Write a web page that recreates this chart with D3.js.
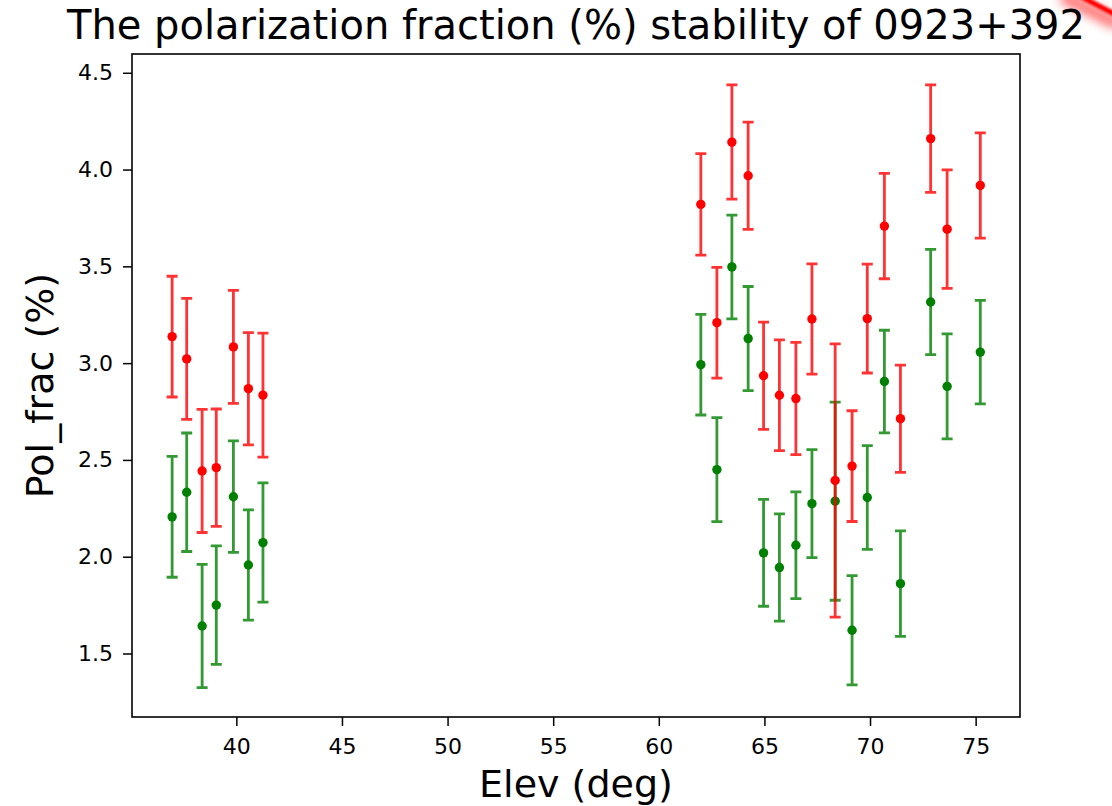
<!DOCTYPE html>
<html>
<head>
<meta charset="utf-8">
<script src="https://cdn.jsdelivr.net/npm/d3@7"></script>
<style>
  body { margin: 0; background: #fff; }
  svg { display: block; }
  text { font-family: "DejaVu Sans", sans-serif; fill: #000; }
</style>
</head>
<body>
<script>
// elevation of every scan (deg) -- red and green share the same elevations
var elev = [36.96, 37.65, 38.38, 39.05, 39.86, 40.57, 41.26,
            61.99, 62.75, 63.46, 64.23, 64.96, 65.71, 66.49, 67.25, 68.35,
            69.15, 69.87, 70.68, 71.44, 72.87, 73.65, 75.22];

var redVal = [3.137, 3.022, 2.443, 2.46, 3.084, 2.868, 2.835,
              3.82, 3.209, 4.142, 3.968, 2.935, 2.834, 2.817, 3.228, 2.394,
              2.468, 3.23, 3.708, 2.713, 4.16, 3.692, 3.918];
var redErr = [0.312, 0.313, 0.318, 0.303, 0.292, 0.29, 0.32,
              0.262, 0.286, 0.295, 0.277, 0.277, 0.286, 0.29, 0.285, 0.706,
              0.286, 0.281, 0.272, 0.277, 0.278, 0.306, 0.272];

var greenVal = [2.206, 2.333, 1.642, 1.75, 2.31, 1.957, 2.073,
                2.992, 2.45, 3.497, 3.127, 2.02, 1.944, 2.059, 2.274, 2.287,
                1.62, 2.306, 2.905, 1.861, 3.316, 2.88, 3.057];
var greenErr = [0.312, 0.306, 0.318, 0.306, 0.288, 0.285, 0.308,
                0.26, 0.269, 0.268, 0.269, 0.276, 0.277, 0.276, 0.279, 0.512,
                0.282, 0.268, 0.265, 0.273, 0.272, 0.271, 0.267];

var xTicks = [40, 45, 50, 55, 60, 65, 70, 75];
var yTicks = [1.5, 2.0, 2.5, 3.0, 3.5, 4.0, 4.5];

var W = 1112, H = 806;
var plotL = 132, plotT = 54, plotR = 1020, plotB = 717;
var cap = 5.5;

var svg = d3.select('body').append('svg')
	.attr('width', W)
	.attr('height', H);

var x = d3.scaleLinear().domain([35.06, 77.10]).range([plotL, plotR]);
var y = d3.scaleLinear().domain([1.172, 4.597]).range([plotB, plotT]);

// blurred red streak in the top right corner
var defs = svg.append('defs');
defs.append('filter').attr('id', 'blur')
	.attr('x', '-50%').attr('y', '-50%').attr('width', '200%').attr('height', '200%')
	.append('feGaussianBlur').attr('stdDeviation', 5);
defs.append('filter').attr('id', 'soft')
	.attr('x', '-50%').attr('y', '-50%').attr('width', '200%').attr('height', '200%')
	.append('feGaussianBlur').attr('stdDeviation', 1.2);

svg.append('line')
	.attr('x1', 1062).attr('y1', -4).attr('x2', 1118).attr('y2', 24)
	.attr('stroke', '#ff8080').attr('stroke-width', 14)
	.attr('filter', 'url(#blur)');
svg.append('line')
	.attr('x1', 1076).attr('y1', -6).attr('x2', 1120).attr('y2', 17)
	.attr('stroke', '#ff0000').attr('stroke-width', 5)
	.attr('filter', 'url(#soft)');

// axes
var xAxis = d3.axisBottom(x)
	.tickValues(xTicks)
	.tickFormat(d3.format('d'))
	.tickSize(9)
	.tickPadding(12)
	.tickSizeOuter(0);

var yAxis = d3.axisLeft(y)
	.tickValues(yTicks)
	.tickFormat(d3.format('.1f'))
	.tickSize(9)
	.tickPadding(10)
	.tickSizeOuter(0);

var gx = svg.append('g')
	.attr('transform', 'translate(0,' + plotB + ')')
	.call(xAxis);
var gy = svg.append('g')
	.attr('transform', 'translate(' + plotL + ',0)')
	.call(yAxis);

[gx, gy].forEach(function(g) {
	g.attr('font-size', null).attr('font-family', null);
	g.select('.domain').remove();
	g.selectAll('.tick line').attr('stroke', '#000').attr('stroke-width', 1.5);
	g.selectAll('.tick text')
		.style('font-family', '"DejaVu Sans", sans-serif')
		.style('font-size', '22px')
		.attr('fill', '#000');
});

// error bars, green first so the red ones sit on top
function series(vals, errs, color) {
	var pts = elev.map(function(e, i) { return { e: e, v: vals[i], s: errs[i] }; });
	var g = svg.append('g');

	g.selectAll('path.err')
		.data(pts)
		.enter().append('path')
			.attr('class', 'err')
			.attr('d', function(d) {
				var cx = x(d.e), y0 = y(d.v - d.s), y1 = y(d.v + d.s);
				return 'M' + cx + ',' + y0 + 'V' + y1 +
					'M' + (cx - cap) + ',' + y1 + 'H' + (cx + cap) +
					'M' + (cx - cap) + ',' + y0 + 'H' + (cx + cap);
			})
			.attr('fill', 'none')
			.attr('stroke', color)
			.attr('stroke-opacity', 0.8)
			.attr('stroke-width', 2.8);

	g.selectAll('circle')
		.data(pts)
		.enter().append('circle')
			.attr('cx', function(d) { return x(d.e); })
			.attr('cy', function(d) { return y(d.v); })
			.attr('r', 4.7)
			.attr('fill', color);
}

series(greenVal, greenErr, '#008000');
series(redVal, redErr, '#ff0000');

// frame
svg.append('rect')
	.attr('x', plotL).attr('y', plotT)
	.attr('width', plotR - plotL).attr('height', plotB - plotT)
	.attr('fill', 'none')
	.attr('stroke', '#000')
	.attr('stroke-width', 1.6);

// title and axis labels
svg.append('text')
	.attr('x', (plotL + plotR) / 2)
	.attr('y', 39)
	.attr('text-anchor', 'middle')
	.style('font-size', '40px')
	.text('The polarization fraction (%) stability of 0923+392');

svg.append('text')
	.attr('x', (plotL + plotR) / 2)
	.attr('y', 797)
	.attr('text-anchor', 'middle')
	.style('font-size', '38px')
	.text('Elev (deg)');

svg.append('text')
	.attr('transform', 'translate(53,' + ((plotT + plotB) / 2) + ')rotate(-90)')
	.attr('text-anchor', 'middle')
	.style('font-size', '38px')
	.text('Pol_frac (%)');
</script>
</body>
</html>
